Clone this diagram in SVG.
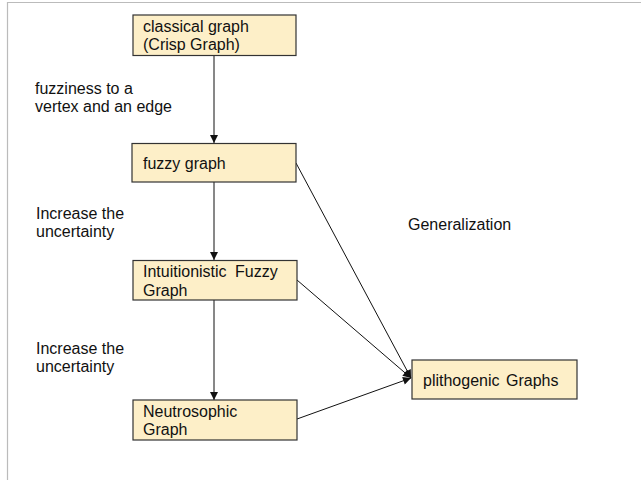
<svg xmlns="http://www.w3.org/2000/svg" width="641" height="480" viewBox="0 0 641 480">
<defs>
<style>
.node rect{fill:#fdefc8;stroke:#333;stroke-width:1.2}
text{font-family:"Liberation Sans",Arial,sans-serif;font-size:16px;fill:#111}
.edge{stroke:#111;stroke-width:1;fill:none}
</style>
<marker id="ah" viewBox="0 0 10 10" refX="10" refY="5" markerWidth="9" markerHeight="8" markerUnits="userSpaceOnUse" orient="auto">
<path d="M0,0 L10,5 L0,10 z" fill="#111"/>
</marker>
</defs>
<rect x="0" y="0" width="641" height="480" fill="#fff"/>
<path d="M7.5,480 V2.5 H641" fill="none" stroke="#bbb" stroke-width="1.2"/>
<g id="connectors">
<line class="edge" x1="214" y1="56" x2="214" y2="143" marker-end="url(#ah)"/>
<line class="edge" x1="214" y1="182" x2="214" y2="260" marker-end="url(#ah)"/>
<line class="edge" x1="214" y1="300" x2="214" y2="400" marker-end="url(#ah)"/>
<line class="edge" x1="296" y1="163" x2="411" y2="378" marker-end="url(#ah)"/>
<line class="edge" x1="297" y1="280" x2="411" y2="378" marker-end="url(#ah)"/>
<line class="edge" x1="297" y1="419" x2="411" y2="378" marker-end="url(#ah)"/>
</g>
<g id="classical" class="node"><rect x="133" y="15" width="163" height="40.5"/><text x="143" y="32">classical graph</text><text x="143" y="50">(Crisp Graph)</text></g>
<g id="fuzzy" class="node"><rect x="132" y="143.5" width="164" height="38.5"/><text x="143" y="168.5">fuzzy graph</text></g>
<g id="intuitionistic" class="node"><rect x="133" y="260.5" width="164" height="39.5"/><text x="143" y="277">Intuitionistic <tspan dx="4">Fuzzy</tspan></text><text x="143" y="295.5">Graph</text></g>
<g id="neutrosophic" class="node"><rect x="133" y="400" width="164" height="40"/><text x="143" y="417">Neutrosophic</text><text x="143" y="435">Graph</text></g>
<g id="plithogenic" class="node"><rect x="412" y="360" width="165" height="39"/><text x="423" y="386">plithogenic <tspan dx="2">Graphs</tspan></text></g>
<g id="labels">
<text x="35" y="94">fuzziness to a</text>
<text x="35" y="112">vertex and an edge</text>
<text x="36" y="218.5">Increase the</text>
<text x="36" y="237">uncertainty</text>
<text x="36" y="353.5">Increase the</text>
<text x="36" y="372">uncertainty</text>
<text x="408" y="229.5">Generalization</text>
</g>
</svg>
